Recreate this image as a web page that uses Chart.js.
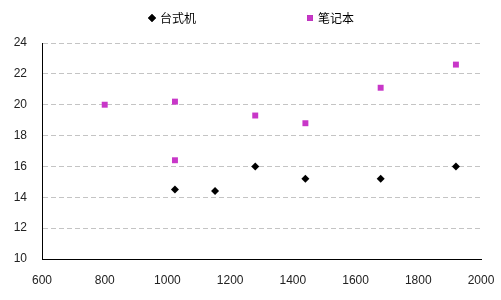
<!DOCTYPE html>
<html>
<head>
<meta charset="utf-8">
<script src="https://cdn.jsdelivr.net/npm/chart.js@4"></script>
<style>
  body { margin: 0; background: #fff; }
</style>
</head>
<body>
<canvas id="myChart" width="501" height="300"></canvas>
<script>
// 시리즈 데이터 (picture에서 읽은 값)
var seriesNames = ['台式机', '笔记本'];
var deskX = [1024, 1152, 1280, 1440, 1680, 1920];
var deskY = [14.5, 14.4, 16.0, 15.2, 15.2, 16.0];
var laptopX = [800, 1024, 1024, 1280, 1440, 1680, 1920];
var laptopY = [20.0, 20.2, 16.4, 19.3, 18.8, 21.1, 22.6];
var xTicks = [600, 800, 1000, 1200, 1400, 1600, 1800, 2000];
var yTicks = [10, 12, 14, 16, 18, 20, 22, 24];

function toPoints(xs, ys) {
	return xs.map(function (x, i) { return { x: x, y: ys[i] }; });
}

var numFont = { family: 'Liberation Sans, Arial, sans-serif', size: 12 };

// 범례는 간격이 넓어서 직접 그림
var topLegend = {
	id: 'topLegend',
	afterDraw: function (chart) {
		var ctx = chart.ctx;
		var xs = [152, 310];
		ctx.save();
		ctx.font = '12px "Noto Sans CJK SC", sans-serif';
		ctx.textBaseline = 'middle';
		ctx.fillStyle = '#000';
		chart.data.datasets.forEach(function (ds, i) {
			Chart.helpers.drawPoint(ctx, {
				pointStyle: ds.pointStyle,
				radius: ds.pointRadius,
				borderWidth: 0
			}, xs[i], 18);
			ctx.fillStyle = ds.backgroundColor;
			ctx.fill();
			ctx.fillStyle = '#000';
			ctx.fillText(ds.label, xs[i] + 8, 18);
		});
		ctx.restore();
	}
};

var ctx = document.getElementById('myChart').getContext('2d');
var myChart = new Chart(ctx, {
	type: 'scatter',
	data: {
		datasets: [{
			label: seriesNames[0],
			data: toPoints(deskX, deskY),
			pointStyle: 'rectRot',
			pointRadius: 4,
			backgroundColor: '#000000',
			borderColor: '#000000',
			borderWidth: 0
		}, {
			label: seriesNames[1],
			data: toPoints(laptopX, laptopY),
			pointStyle: 'rect',
			pointRadius: 4.2,
			backgroundColor: '#C837C8',
			borderColor: '#C837C8',
			borderWidth: 0
		}]
	},
	options: {
		responsive: false,
		animation: false,
		layout: { padding: { top: 43, right: 20, left: 0, bottom: 0 } },
		plugins: {
			legend: { display: false },
			tooltip: { enabled: false }
		},
		scales: {
			x: {
				type: 'linear',
				min: xTicks[0],
				max: xTicks[xTicks.length - 1],
				afterBuildTicks: function (s) { s.ticks = xTicks.map(function (v) { return { value: v }; }); },
				afterFit: function (s) { s.height = 41; s.paddingLeft = 0; s.paddingRight = 0; },
				grid: { color: 'transparent', drawTicks: false },
				border: { display: true, color: '#000', width: 1 },
				ticks: { padding: 14, color: '#222', font: numFont, maxRotation: 0,
					callback: function (v) { return String(v); } }
			},
			y: {
				type: 'linear',
				min: yTicks[0],
				max: yTicks[yTicks.length - 1],
				afterBuildTicks: function (s) { s.ticks = yTicks.map(function (v) { return { value: v }; }); },
				afterFit: function (s) { s.width = 42; s.paddingTop = 0; s.paddingBottom = 0; },
				grid: { color: '#c4c4c4', drawTicks: false },
				border: { display: true, color: '#000', width: 1, dash: [5, 3] },
				ticks: { padding: 15, color: '#222', font: numFont,
					callback: function (v) { return String(v); } }
			}
		}
	},
	plugins: [topLegend]
});
</script>
</body>
</html>
